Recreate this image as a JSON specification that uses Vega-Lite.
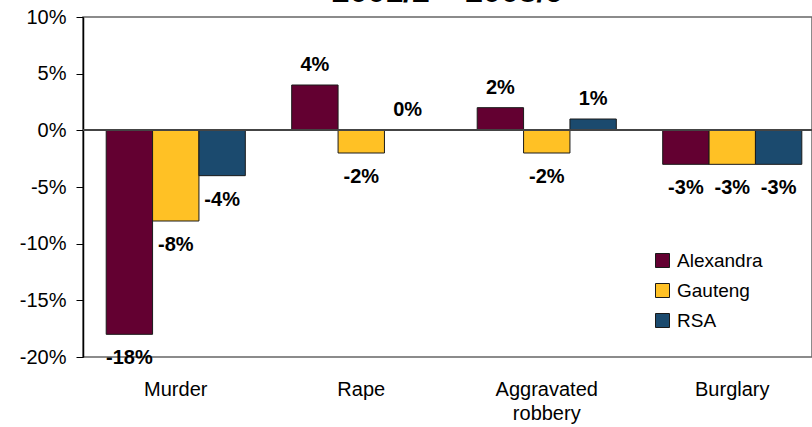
{
  "$schema": "https://vega.github.io/schema/vega-lite/v6.json",
  "autosize": {"type": "none"},
  "width": 729,
  "height": 340,
  "padding": {"left": 83, "top": 17, "right": 0, "bottom": 70},
  "background": "white",
  "config": {
    "font": "Liberation Sans",
    "view": {"stroke": "#666666", "strokeWidth": 1.5}
  },
  "title": {
    "text": "2001/2 – 2008/9",
    "fontSize": 32,
    "fontWeight": "bold",
    "color": "black",
    "anchor": "middle",
    "baseline": "bottom",
    "dy": 38
  },
  "data": {
    "values": [
      {"category": "Murder", "region": "Alexandra", "value": -18},
      {"category": "Murder", "region": "Gauteng", "value": -8},
      {"category": "Murder", "region": "RSA", "value": -4},
      {"category": "Rape", "region": "Alexandra", "value": 4},
      {"category": "Rape", "region": "Gauteng", "value": -2},
      {"category": "Rape", "region": "RSA", "value": 0},
      {"category": "Aggravated robbery", "region": "Alexandra", "value": 2},
      {"category": "Aggravated robbery", "region": "Gauteng", "value": -2},
      {"category": "Aggravated robbery", "region": "RSA", "value": 1},
      {"category": "Burglary", "region": "Alexandra", "value": -3},
      {"category": "Burglary", "region": "Gauteng", "value": -3},
      {"category": "Burglary", "region": "RSA", "value": -3}
    ]
  },
  "encoding": {
    "x": {
      "field": "category",
      "type": "nominal",
      "sort": ["Murder", "Rape", "Aggravated robbery", "Burglary"],
      "scale": {"range": [0, 742], "paddingInner": 0.25, "paddingOuter": 0.125},
      "axis": {
        "title": null,
        "domain": false,
        "ticks": false,
        "labelAngle": 0,
        "labelFontSize": 20,
        "labelColor": "black",
        "labelPadding": 22,
        "labelLineHeight": 24,
        "labelBaseline": "top",
        "labelExpr": "datum.label == 'Aggravated robbery' ? ['Aggravated', 'robbery'] : datum.label"
      }
    },
    "xOffset": {
      "field": "region",
      "type": "nominal",
      "sort": ["Alexandra", "Gauteng", "RSA"],
      "scale": {"paddingInner": 0, "paddingOuter": 0}
    },
    "y": {
      "field": "value",
      "type": "quantitative",
      "scale": {"domain": [-20, 10], "nice": false},
      "axis": {
        "title": null,
        "grid": false,
        "values": [-20, -15, -10, -5, 0, 5, 10],
        "labelExpr": "datum.value + '%'",
        "labelFontSize": 20,
        "labelColor": "black",
        "labelPadding": 10,
        "tickSize": 7,
        "tickColor": "black",
        "domainColor": "black",
        "domainWidth": 1.5
      }
    }
  },
  "layer": [
    {
      "mark": {"type": "bar", "stroke": "#1a1a1a", "strokeWidth": 1},
      "encoding": {
        "color": {
          "field": "region",
          "type": "nominal",
          "sort": ["Alexandra", "Gauteng", "RSA"],
          "scale": {"domain": ["Alexandra", "Gauteng", "RSA"], "range": ["#630031", "#FFC125", "#1B4A6E"]},
          "legend": {
            "title": null,
            "orient": "none",
            "legendX": 570,
            "legendY": 234,
            "symbolType": "square",
            "symbolSize": 196,
            "symbolStrokeColor": "#1a1a1a",
            "symbolStrokeWidth": 1,
            "symbolOpacity": 1,
            "labelFontSize": 19,
            "labelColor": "black",
            "rowPadding": 10,
            "labelOffset": 5
          }
        }
      }
    },
    {
      "mark": {"type": "rule", "color": "#444", "strokeWidth": 1.5},
      "encoding": {"y": {"datum": 0}, "x": {}, "xOffset": {}}
    },
    {
      "transform": [{"filter": "datum.value >= 0"}],
      "mark": {"type": "text", "fontWeight": "bold", "fontSize": 20, "color": "black", "baseline": "middle", "dy": -20, "text": {"expr": "datum.value + '%'"}}
    },
    {
      "transform": [{"filter": "datum.value < 0"}],
      "mark": {"type": "text", "fontWeight": "bold", "fontSize": 20, "color": "black", "baseline": "middle", "dy": 24, "text": {"expr": "datum.value + '%'"}}
    }
  ]
}
